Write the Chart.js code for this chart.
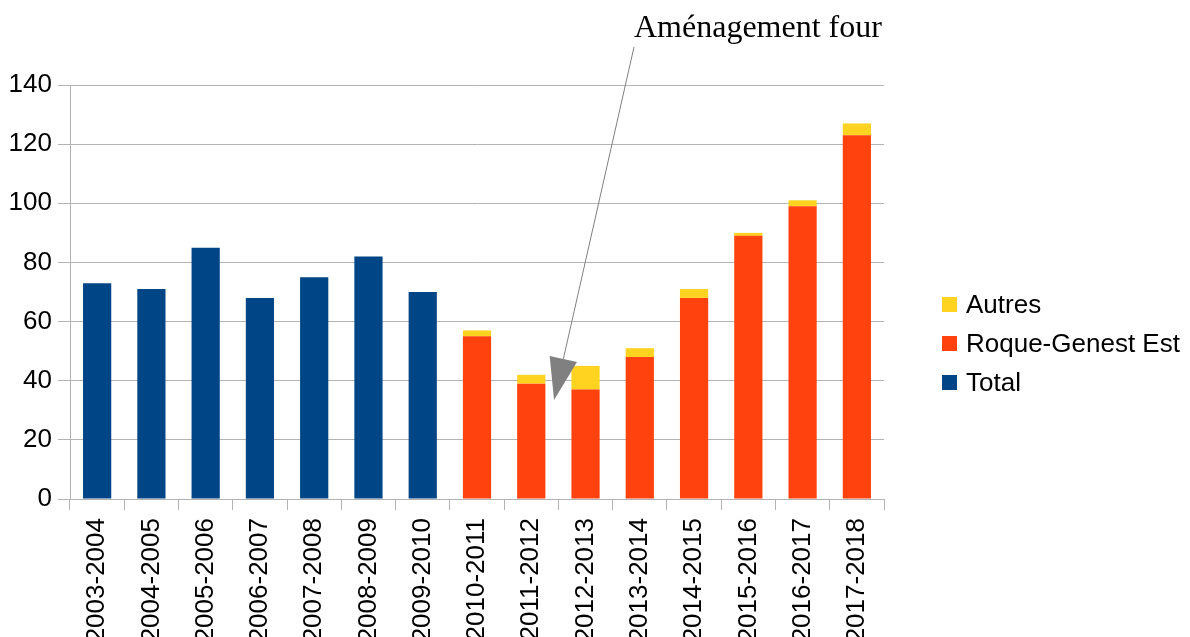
<!DOCTYPE html>
<html>
<head>
<meta charset="utf-8">
<script src="https://cdn.jsdelivr.net/npm/chart.js@4"></script>
<style>
  body { margin: 0; background: #fff; overflow: hidden; }
  #wrap { position: relative; width: 1190px; height: 637px; overflow: hidden; }
  #legend { position: absolute; left: 942px; top: 285px; font: 26px "Liberation Sans", Arial, sans-serif; color: #000; }
  #legend div { height: 39px; line-height: 39px; white-space: nowrap; }
  #legend span { display: inline-block; width: 15px; height: 15px; margin-right: 9px; vertical-align: 1px; }
  #note { position: absolute; left: 634px; top: 8px; font: 32px "Liberation Serif", "Times New Roman", serif; color: #000; white-space: nowrap; }
</style>
</head>
<body>
<div id="wrap">
  <canvas id="chart" width="1190" height="637"></canvas>
  <div id="note">Aménagement four</div>
  <div id="legend"></div>
</div>
<script>
var seasons = ["2003-2004", "2004-2005", "2005-2006", "2006-2007", "2007-2008", "2008-2009", "2009-2010",
  "2010-2011", "2011-2012", "2012-2013", "2013-2014", "2014-2015", "2015-2016", "2016-2017", "2017-2018"];
var total = [73, 71, 85, 68, 75, 82, 70, null, null, null, null, null, null, null, null];
var roqueGenest = [null, null, null, null, null, null, null, 55, 39, 37, 48, 68, 89, 99, 123];
var autres = [null, null, null, null, null, null, null, 2, 3, 8, 3, 3, 1, 2, 4];
var yTicks = [0, 20, 40, 60, 80, 100, 120, 140];

var colors = { total: '#004586', roque: '#ff420e', autres: '#ffd320' };

// arrow from the note down to the 2011-2013 bars
var arrowPlugin = {
  id: 'arrow',
  afterDatasetsDraw: function (chart) {
    var c = chart.ctx, x = chart.scales.x, y = chart.scales.y;
    var tipX = x.getPixelForValue(8) + 0.42 * (x.getPixelForValue(9) - x.getPixelForValue(8));
    var tipY = y.getPixelForValue(33.5);
    var startX = 634, startY = 47;
    var ang = Math.atan2(tipY - startY, tipX - startX);
    var len = 42, half = 14;
    var bx = tipX - len * Math.cos(ang), by = tipY - len * Math.sin(ang);
    c.save();
    c.strokeStyle = '#808080';
    c.lineWidth = 1;
    c.beginPath();
    c.moveTo(startX, startY);
    c.lineTo(bx, by);
    c.stroke();
    c.fillStyle = '#808080';
    c.beginPath();
    c.moveTo(tipX, tipY);
    c.lineTo(bx + half * Math.sin(ang), by - half * Math.cos(ang));
    c.lineTo(bx - half * Math.sin(ang), by + half * Math.cos(ang));
    c.closePath();
    c.fill();
    c.restore();
  }
};

var ctx = document.getElementById('chart').getContext('2d');
var myChart = new Chart(ctx, {
  type: 'bar',
  data: {
    labels: seasons,
    datasets: [{
      label: 'Total',
      data: total,
      backgroundColor: colors.total
    }, {
      label: 'Roque-Genest Est',
      data: roqueGenest,
      backgroundColor: colors.roque
    }, {
      label: 'Autres',
      data: autres,
      backgroundColor: colors.autres
    }]
  },
  options: {
    responsive: false,
    animation: false,
    layout: { padding: { top: 85, right: 306, left: 0, bottom: 0 } },
    datasets: { bar: { barPercentage: 1, categoryPercentage: 0.52 } },
    plugins: {
      legend: { display: false },
      tooltip: { enabled: false }
    },
    scales: {
      x: {
        stacked: true,
        offset: true,
        afterFit: function (s) { s.height = 138; },
        grid: {
          offset: true,
          color: function (c) { return c.index === seasons.length ? '#b3b3b3' : 'rgba(0,0,0,0)'; },
          tickColor: '#b3b3b3',
          tickLength: 11
        },
        border: { color: '#b3b3b3' },
        ticks: {
          color: '#000',
          font: { family: '"Liberation Sans", Arial, sans-serif', size: 26 },
          minRotation: 90,
          maxRotation: 90,
          autoSkip: false,
          padding: 8
        }
      },
      y: {
        stacked: true,
        min: 0,
        max: 140,
        afterFit: function (s) { s.width = 70; },
        afterBuildTicks: function (s) { s.ticks = yTicks.map(function (v) { return { value: v }; }); },
        grid: { color: '#b3b3b3', tickColor: '#b3b3b3', tickLength: 12 },
        border: { color: '#b3b3b3' },
        ticks: {
          color: '#000',
          font: { family: '"Liberation Sans", Arial, sans-serif', size: 26 },
          padding: 6
        }
      }
    }
  },
  plugins: [arrowPlugin]
});

// legend, listed top-down as in the original
var legendItems = [['Autres', colors.autres], ['Roque-Genest Est', colors.roque], ['Total', colors.total]];
var lg = document.getElementById('legend');
legendItems.forEach(function (it) {
  var d = document.createElement('div');
  var sw = document.createElement('span');
  sw.style.background = it[1];
  d.appendChild(sw);
  d.appendChild(document.createTextNode(it[0]));
  lg.appendChild(d);
});
</script>
</body>
</html>
